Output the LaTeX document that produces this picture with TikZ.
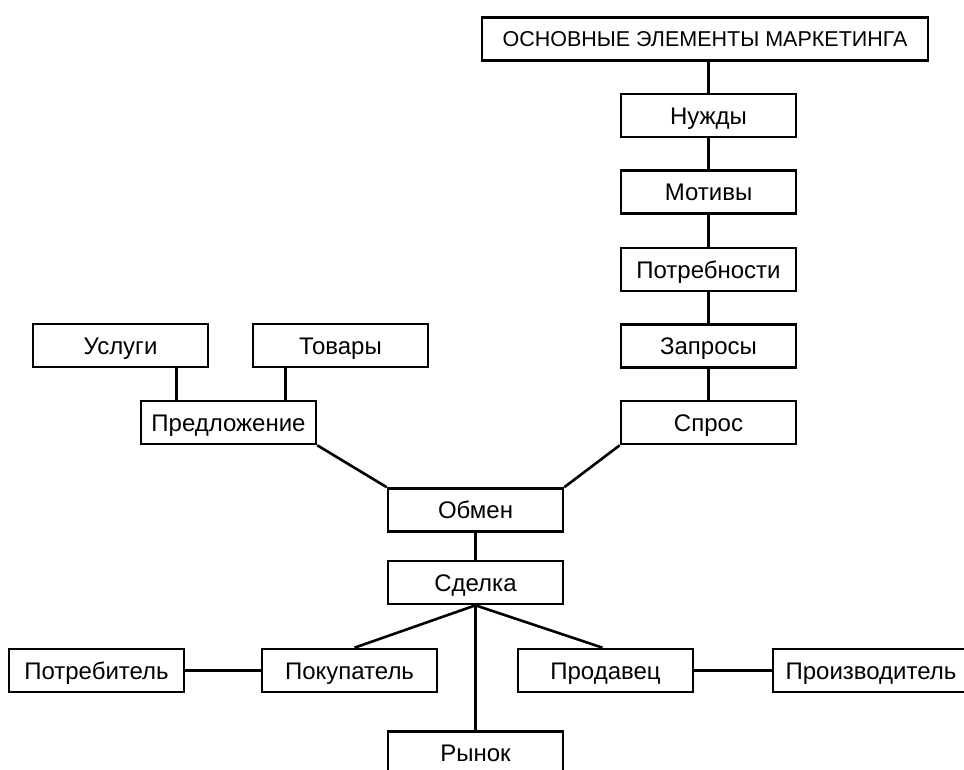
\documentclass[tikz,border=0pt]{standalone}
\usepackage{fontspec}
\setmainfont{Liberation Sans}
\usetikzlibrary{calc}
\begin{document}
\begin{tikzpicture}[x=1pt,y=-1pt,
  box/.style={draw,line width=2.6pt,minimum width=175pt,minimum height=43pt,inner sep=0pt,
    text height=17pt,text depth=0pt,
    font=\fontsize{24}{28}\selectfont},
  titlebox/.style={box,minimum width=446pt,text height=15.5pt,font=\fontsize{21.5}{26}\selectfont},
  conn/.style={line width=2.6pt}]
\useasboundingbox (0,0) rectangle (964,769);
\node[titlebox] (top) at (705,39) {ОСНОВНЫЕ ЭЛЕМЕНТЫ МАРКЕТИНГА};
\node[box] (nuzhdy) at (708.5,115.5) {Нужды};
\node[box] (motivy) at (708.5,192) {Мотивы};
\node[box] (potrebn) at (708.5,269.5) {Потребности};
\node[box] (zaprosy) at (708.5,346) {Запросы};
\node[box] (spros) at (708.5,422.5) {Спрос};
\node[box] (uslugi) at (120.5,345.5) {Услуги};
\node[box] (tovary) at (340.5,345.5) {Товары};
\node[box] (predl) at (228.5,422.5) {Предложение};
\node[box] (obmen) at (475.5,510) {Обмен};
\node[box] (sdelka) at (475.5,582.5) {Сделка};
\node[box] (potrebit) at (96.5,670.5) {Потребитель};
\node[box] (pokup) at (349.5,670.5) {Покупатель};
\node[box] (prodav) at (605.5,670.5) {Продавец};
\node[box,minimum width=196pt] (proizv) at (871,670.5) {Производитель};
\node[box] (rynok) at (475.5,753) {Рынок};
\draw[conn] (nuzhdy.north) -- (nuzhdy.north |- top.south);
\draw[conn] (nuzhdy) -- (motivy);
\draw[conn] (motivy) -- (potrebn);
\draw[conn] (potrebn) -- (zaprosy);
\draw[conn] (zaprosy) -- (spros);
\draw[conn] ([xshift=37pt]predl.north west) -- ([xshift=37pt]predl.north west |- uslugi.south);
\draw[conn] ([xshift=-32pt]predl.north east) -- ([xshift=-32pt]predl.north east |- tovary.south);
\draw[conn] (predl.south east) -- (obmen.north west);
\draw[conn] (spros.south west) -- (obmen.north east);
\draw[conn] (obmen) -- (sdelka);
\draw[conn] (sdelka.south) -- ([xshift=5pt]pokup.north);
\draw[conn] (sdelka.south) -- ([xshift=-3pt]prodav.north);
\draw[conn] (sdelka.south) -- (rynok.north);
\draw[conn] (potrebit) -- (pokup);
\draw[conn] (prodav) -- (proizv);
\end{tikzpicture}
\end{document}
